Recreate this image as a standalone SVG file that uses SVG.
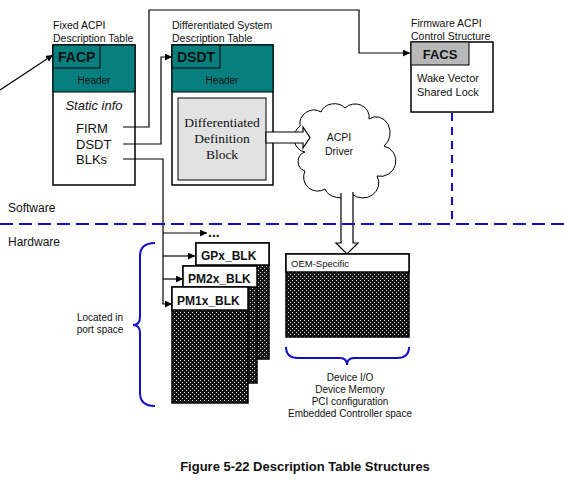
<svg xmlns="http://www.w3.org/2000/svg" width="564" height="480" viewBox="0 0 564 480">
<defs>
<style>
text{font-family:"Liberation Sans",Arial,sans-serif;fill:#111}
.cap{font-size:10.5px}
.bold{font-weight:bold}
.box{fill:#fff;stroke:#000;stroke-width:1.5}
.teal{fill:#087F7F;stroke:#000;stroke-width:1}
.conn{fill:none;stroke:#000;stroke-width:1.2}
.blue{fill:none;stroke:#1010C8;stroke-width:2}
.hollow{fill:#fff;stroke:#000;stroke-width:1.2}
</style>
<marker id="ah" viewBox="0 0 10 10" refX="10" refY="5" markerWidth="7" markerHeight="7" orient="auto" markerUnits="userSpaceOnUse"><path d="M0,0 L10,5 L0,10 Z" fill="#000"/></marker>
<pattern id="dots" width="4" height="4" patternUnits="userSpaceOnUse"><rect width="4" height="4" fill="#151515"/><rect x="0" y="0" width="1" height="1" fill="#ddd"/><rect x="2" y="2" width="1" height="1" fill="#ddd"/></pattern>
</defs>
<rect width="564" height="480" fill="#fff"/>

<g id="labels">
<text class="cap" x="53" y="29">Fixed ACPI</text>
<text class="cap" x="53" y="42">Description Table</text>
<text class="cap" x="172" y="29">Differentiated System</text>
<text class="cap" x="172" y="42">Description Table</text>
<text class="cap" x="411" y="27">Firmware ACPI</text>
<text class="cap" x="411" y="40">Control Structure</text>
<text x="8" y="212" font-size="12">Software</text>
<text x="8" y="246" font-size="12">Hardware</text>
</g>

<g id="FACP">
<rect class="box" x="53" y="45" width="82" height="140"/>
<rect class="teal" x="53" y="45" width="82" height="47"/>
<rect class="teal" x="53" y="45" width="47" height="23"/>
<text x="58" y="62" font-size="14" class="bold">FACP</text>
<text x="94" y="84" font-size="10" text-anchor="middle">Header</text>
<text x="94" y="110" font-size="13" font-style="italic" text-anchor="middle">Static info</text>
<text x="76" y="133" font-size="13">FIRM</text>
<text x="76" y="149" font-size="13">DSDT</text>
<text x="76" y="164" font-size="13">BLKs</text>
</g>

<g id="DSDT">
<rect class="box" x="172" y="45" width="101" height="140" stroke-width="2.2"/>
<rect class="teal" x="172" y="45" width="101" height="47"/>
<rect class="teal" x="172" y="45" width="48" height="23"/>
<text x="177" y="62" font-size="14" class="bold">DSDT</text>
<text x="222" y="84" font-size="10" text-anchor="middle">Header</text>
<rect x="178" y="98" width="88" height="82" fill="#e2e2e2" stroke="#000" stroke-width="1"/>
<text x="222" y="127" font-size="13.5" text-anchor="middle" style="font-family:'Liberation Serif','Times New Roman',serif">Differentiated</text>
<text x="222" y="143" font-size="13.5" text-anchor="middle" style="font-family:'Liberation Serif','Times New Roman',serif">Definition</text>
<text x="222" y="159" font-size="13.5" text-anchor="middle" style="font-family:'Liberation Serif','Times New Roman',serif">Block</text>
</g>

<g id="FACS">
<rect class="box" x="411" y="42" width="82" height="70"/>
<rect x="411" y="42" width="58" height="23" fill="#b8b8b8" stroke="#000" stroke-width="1"/>
<text x="440" y="59" font-size="13" class="bold" text-anchor="middle">FACS</text>
<text x="417" y="82" font-size="11">Wake Vector</text>
<text x="417" y="96" font-size="11">Shared Lock</text>
</g>

<g id="ACPI-Driver">
<path d="M305,152 A12,14 0 0 1 300,126 A14,14 0 0 1 321,112 A14,12 0 0 1 345,108 A14,13 0 0 1 369,119 A14,16 0 0 1 384,146 A14,14 0 0 1 377,176 A16,15 0 0 1 352,194 A16,12 0 0 1 325,189 A14,14 0 0 1 305,171 A10,10 0 0 1 305,152 Z" fill="#fff" stroke="#000" stroke-width="1"/>
<text x="339" y="141" font-size="10.5" text-anchor="middle">ACPI</text>
<text x="339" y="155" font-size="10.5" text-anchor="middle">Driver</text>
</g>

<g id="connectors">
<path class="conn" d="M0,90 L53,55" marker-end="url(#ah)"/>
<path class="conn" d="M123,127 H149 V10 H359 V53 H410" marker-end="url(#ah)"/>
<path class="conn" d="M123,144 H161 V57 H172" marker-end="url(#ah)"/>
<path class="conn" d="M123,159 H163 V304 H172" marker-end="url(#ah)"/>
<path class="conn" d="M163,233 H207" marker-end="url(#ah)"/>
<path class="conn" d="M163,256 H195" marker-end="url(#ah)"/>
<path class="conn" d="M163,279 H183" marker-end="url(#ah)"/>
<text x="208" y="237" font-size="14" class="bold">...</text>
<path class="hollow" d="M266,132 H303 V127 L310,137.5 L303,148 V143 H266 Z"/>
<path class="hollow" d="M341,193 V243 H336 L347,254 L358,243 H353 V192"/>
</g>

<g id="OEM">
<rect x="286" y="254" width="123" height="83" fill="url(#dots)" stroke="#000" stroke-width="1.5"/>
<rect x="286" y="254" width="123" height="18" fill="#fff" stroke="#000" stroke-width="1.5"/>
<text x="291" y="267" font-size="9.5">OEM-Specific</text>
</g>

<g id="GPx_BLK">
<rect x="196" y="243" width="73" height="116" fill="url(#dots)" stroke="#000" stroke-width="1.5"/>
<rect x="196" y="243" width="73" height="22" fill="#fff" stroke="#000" stroke-width="1.5"/>
<text x="201" y="260" font-size="12" class="bold">GPx_BLK</text>
</g>
<g id="PM2x_BLK">
<rect x="183" y="266" width="74" height="117" fill="url(#dots)" stroke="#000" stroke-width="1.5"/>
<rect x="183" y="266" width="74" height="21" fill="#fff" stroke="#000" stroke-width="1.5"/>
<text x="188" y="283" font-size="12" class="bold">PM2x_BLK</text>
</g>
<g id="PM1x_BLK">
<rect x="172" y="287" width="76" height="116" fill="url(#dots)" stroke="#000" stroke-width="1.5"/>
<rect x="172" y="287" width="76" height="23" fill="#fff" stroke="#000" stroke-width="1.5"/>
<text x="177" y="305" font-size="12" class="bold">PM1x_BLK</text>
</g>

<g id="separators">
<path class="blue" d="M0,224 H564" stroke-dasharray="13,6"/>
<path class="blue" d="M452,113 V224" stroke-dasharray="8,6"/>
</g>

<g id="braces">
<path class="blue" d="M155,243 Q140,243 140,256 L140,317 Q140,325 133,325 Q140,325 140,333 L140,393 Q140,406 155,406"/>
<text x="100" y="321" font-size="10" text-anchor="middle">Located in</text>
<text x="100" y="333" font-size="10" text-anchor="middle">port space</text>
<path class="blue" d="M286,347 Q286,358 298,358 L340,358 Q347,358 347,365 Q347,358 354,358 L397,358 Q409,358 409,347"/>
<text x="350" y="381" font-size="10" text-anchor="middle">Device I/O</text>
<text x="350" y="393" font-size="10" text-anchor="middle">Device Memory</text>
<text x="350" y="405" font-size="10" text-anchor="middle">PCI configuration</text>
<text x="350" y="417" font-size="10" text-anchor="middle">Embedded Controller space</text>
</g>

<text x="305" y="471" font-size="13" class="bold" text-anchor="middle">Figure 5-22 Description Table Structures</text>
</svg>
